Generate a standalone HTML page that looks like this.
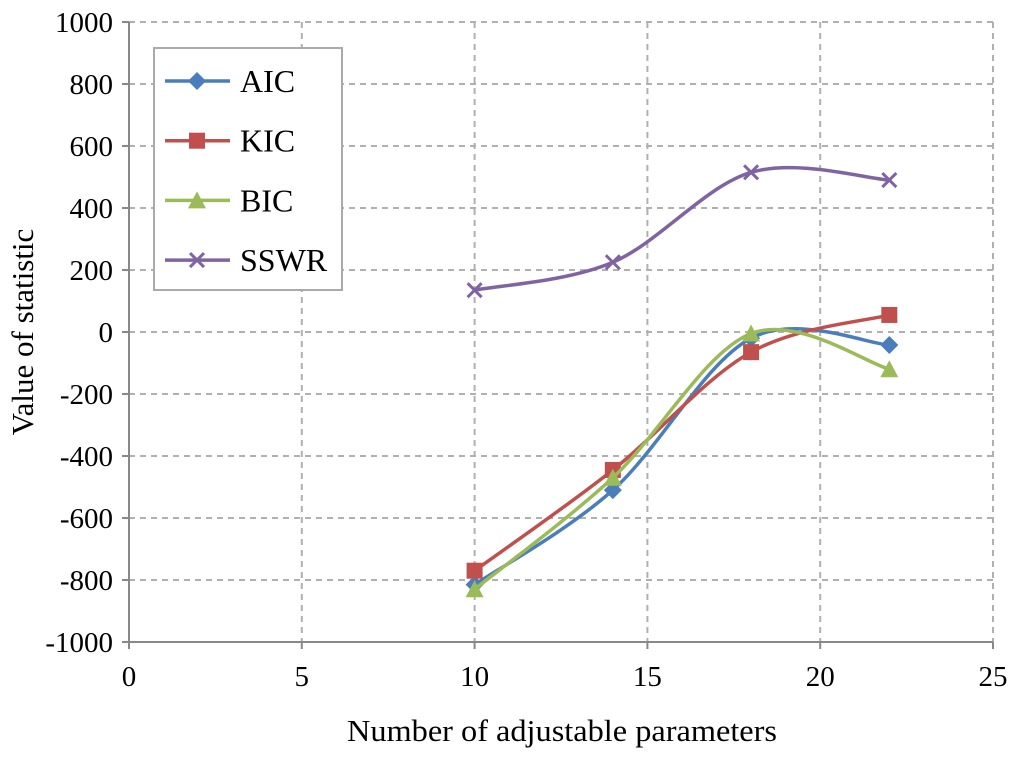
<!DOCTYPE html>
<html><head><meta charset="utf-8"><style>
body{margin:0;background:#fff}
svg text{font-family:"Liberation Serif",serif;fill:#000}
</style></head><body>
<svg id="chart" width="1024" height="759" xmlns="http://www.w3.org/2000/svg">
<g id="grid"></g>
<g id="axes"></g>
<g id="series"></g>
<text x="562" y="741" font-size="31" text-anchor="middle" textLength="430" lengthAdjust="spacingAndGlyphs">Number of adjustable parameters</text>
<text transform="translate(33,332) rotate(-90)" font-size="31" text-anchor="middle">Value of statistic</text>
<g>
<rect x="154" y="48" width="188" height="242" fill="#fff" stroke="#aaa" stroke-width="2"/>
<g id="legend"></g>
</g>
</svg>
<script>
const xTicks=[0,5,10,15,20,25];
const yTicks=[-1000,-800,-600,-400,-200,0,200,400,600,800,1000];
const xValues=[10,14,18,22];
const aic=[-815,-510,-20,-42];
const kic=[-770,-445,-65,55];
const bic=[-830,-470,-5,-120];
const sswr=[135,225,515,490];
const names=['AIC','KIC','BIC','SSWR'];
const colors=['#4a7ebb','#c0504d','#9bbb59','#8064a2'];
const X0=129,X1=993,Y0=642,Y1=22;
const sx=v=>X0+(v-0)/25*(X1-X0);
const sy=v=>Y0-(v+1000)/2000*(Y0-Y1);
const NS='http://www.w3.org/2000/svg';
function mk(t,a,p){const e=document.createElementNS(NS,t);for(const k in a)e.setAttribute(k,a[k]);p.appendChild(e);return e;}
const grid=document.getElementById('grid'),axes=document.getElementById('axes'),ser=document.getElementById('series'),leg=document.getElementById('legend');
yTicks.forEach(v=>{
 if(v>-1000){const l=mk('line',{x1:X0,x2:X1,y1:sy(v),y2:sy(v),stroke:'#b0b0b0','stroke-width':2,'stroke-dasharray':'6,5'},grid);
 }
 const t=mk('text',{x:X0-16,y:sy(v)+10,'font-size':29,'text-anchor':'end'},axes);t.textContent=v;
 
 const tk=mk('line',{x1:X0-7,x2:X0,y1:sy(v),y2:sy(v),stroke:'#888','stroke-width':2},axes);
 
});
xTicks.forEach(v=>{
 if(v>0){const l=mk('line',{x1:sx(v),x2:sx(v),y1:Y1,y2:Y0,stroke:'#b0b0b0','stroke-width':2,'stroke-dasharray':'6,5'},grid);
 }
 const t=mk('text',{x:sx(v),y:Y0+44,'font-size':29,'text-anchor':'middle'},axes);t.textContent=v;
 
 const tk=mk('line',{x1:sx(v),x2:sx(v),y1:Y0,y2:Y0+7,stroke:'#888','stroke-width':2},axes);
 
});
const ax=mk('path',{d:`M${X0},${Y1}V${Y0}H${X1}`,fill:'none',stroke:'#888','stroke-width':2},axes);

function curve(pts){let d=`M${pts[0][0]},${pts[0][1]}`;const t=0.5/3*2;
 for(let i=0;i<pts.length-1;i++){const p0=pts[i-1]||pts[i],p1=pts[i],p2=pts[i+1],p3=pts[i+2]||p2;
 const c1=[p1[0]+(p2[0]-p0[0])*t/2,p1[1]+(p2[1]-p0[1])*t/2],c2=[p2[0]-(p3[0]-p1[0])*t/2,p2[1]-(p3[1]-p1[1])*t/2];
 d+=`C${c1[0]},${c1[1]} ${c2[0]},${c2[1]} ${p2[0]},${p2[1]}`;}return d;}
function marker(i,x,y,p){const c=colors[i];let e;
 if(i===0)e=mk('path',{d:`M${x},${y-9}L${x+9},${y}L${x},${y+9}L${x-9},${y}Z`,fill:c},p);
 else if(i===1)e=mk('rect',{x:x-8,y:y-8,width:16,height:16,fill:c},p);
 else if(i===2)e=mk('path',{d:`M${x},${y-9}L${x+9},${y+8}L${x-9},${y+8}Z`,fill:c},p);
 else e=mk('path',{d:`M${x-7},${y-7}L${x+7},${y+7}M${x+7},${y-7}L${x-7},${y+7}`,stroke:c,'stroke-width':3},p);
 return e;}
[aic,kic,bic,sswr].forEach((vals,i)=>{
 const g=mk('g',{},ser);
 const pts=xValues.map((x,j)=>[sx(x),sy(vals[j])]);
 const l=mk('path',{d:curve(pts),fill:'none',stroke:colors[i],'stroke-width':3.5},g);
 
 pts.forEach(p=>{const m=marker(i,p[0],p[1],g);});
 const ly=81+i*59.7;
 const le=mk('g',{},leg);
 mk('line',{x1:165,x2:230,y1:ly,y2:ly,stroke:colors[i],'stroke-width':3.5},le);
 marker(i,197,ly,le);
 const t=mk('text',{x:240,y:ly+11,'font-size':32},le);t.textContent=names[i];
});
</script>
</body></html>
